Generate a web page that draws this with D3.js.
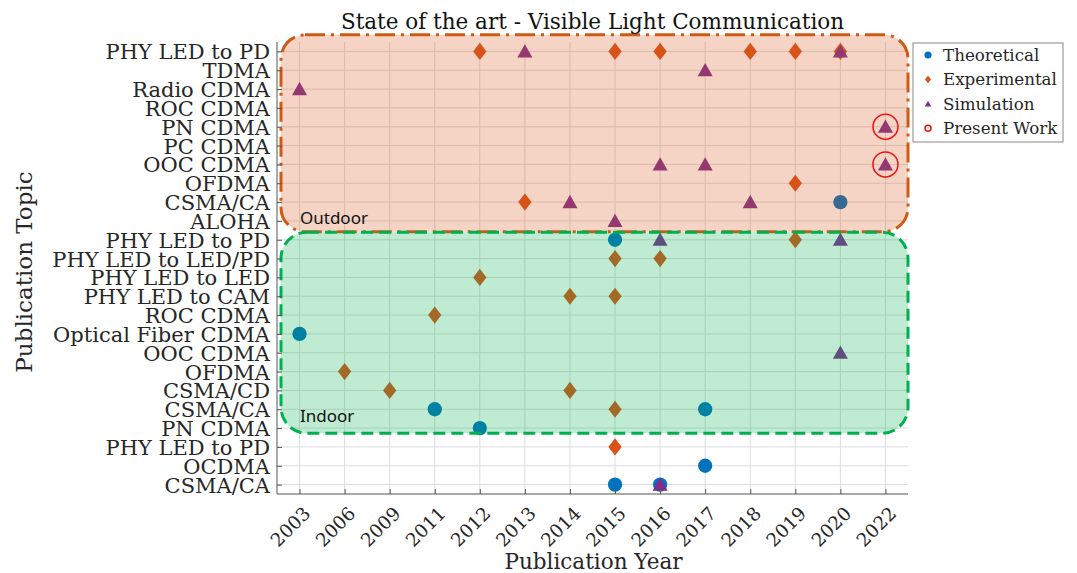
<!DOCTYPE html>
<html>
<head>
<meta charset="utf-8">
<script src="https://cdn.jsdelivr.net/npm/d3@7"></script>
<style>
  body { margin: 0; background: #fff; }
  svg text { font-family: "DejaVu Serif", serif; fill: #262626; }
</style>
</head>
<body>
<script>
// categories
var years = ["2003","2006","2009","2011","2012","2013","2014","2015","2016","2017","2018","2019","2020","2022"];
var topics = ["PHY LED to PD","TDMA","Radio CDMA","ROC CDMA","PN CDMA","PC CDMA","OOC CDMA","OFDMA","CSMA/CA","ALOHA",
              "PHY LED to PD","PHY LED to LED/PD","PHY LED to LED","PHY LED to CAM","ROC CDMA","Optical Fiber CDMA",
              "OOC CDMA","OFDMA","CSMA/CD","CSMA/CA","PN CDMA","PHY LED to PD","OCDMA","CSMA/CA"];

// series: [year, topic row (0 = top)]
var theoretical = [["2020",8],["2015",10],["2003",15],["2011",19],["2017",19],["2012",20],["2017",22],["2015",23],["2016",23]];
var experimental = [["2012",0],["2015",0],["2016",0],["2018",0],["2019",0],["2020",0],["2019",7],["2013",8],
                    ["2019",10],["2015",11],["2016",11],["2012",12],["2014",13],["2015",13],["2011",14],["2006",17],
                    ["2009",18],["2014",18],["2015",19],["2015",21]];
var simulation = [["2013",0],["2020",0],["2017",1],["2003",2],["2022",4],["2016",6],["2017",6],["2022",6],
                  ["2014",8],["2018",8],["2015",9],["2016",10],["2020",10],["2020",16],["2016",23]];
var presentWork = [["2022",4],["2022",6]];

var legendNames = ["Theoretical","Experimental","Simulation","Present Work"];
var regionNames = ["Outdoor","Indoor"];
var regionRows = [[0,9],[10,20]];

var W = 1077, H = 573;
var plotLeft = 277, plotRight = 908, plotTop = 42, plotBottom = 494;

var svg = d3.select("body").append("svg").attr("width", W).attr("height", H);

var x = d3.scalePoint().domain(years).range([plotLeft, plotRight]).padding(0.5);
var y = d3.scalePoint().domain(d3.range(topics.length)).range([plotTop, plotBottom]).padding(0.5);

// grid
svg.append("g").selectAll("line").data(years).enter().append("line")
    .attr("x1", function(d){ return x(d); }).attr("x2", function(d){ return x(d); })
    .attr("y1", plotTop).attr("y2", plotBottom)
    .attr("stroke", "#dcdcdc").attr("stroke-width", 1);
svg.append("g").selectAll("line").data(d3.range(topics.length)).enter().append("line")
    .attr("y1", function(d){ return y(d); }).attr("y2", function(d){ return y(d); })
    .attr("x1", plotLeft).attr("x2", plotRight)
    .attr("stroke", "#dcdcdc").attr("stroke-width", 1);

// marker shapes
var diamond = { draw: function(ctx, size){ var h = Math.sqrt(size) * 0.62, w = h * 0.78;
    ctx.moveTo(0, -h); ctx.lineTo(w, 0); ctx.lineTo(0, h); ctx.lineTo(-w, 0); ctx.closePath(); } };
var triangle = { draw: function(ctx, size){ var s = Math.sqrt(size);
    ctx.moveTo(0, -s * 0.5); ctx.lineTo(s * 0.52, s * 0.42); ctx.lineTo(-s * 0.52, s * 0.42); ctx.closePath(); } };

function drawSeries(data, type, size, color){
    svg.append("g").selectAll("path").data(data).enter().append("path")
        .attr("transform", function(d){ return "translate(" + x(d[0]) + "," + y(d[1]) + ")"; })
        .attr("d", d3.symbol().type(type).size(size))
        .attr("fill", color);
}
drawSeries(theoretical, d3.symbolCircle, 160, "#0072BD");
drawSeries(experimental, diamond, 190, "#D95319");
drawSeries(simulation, triangle, 210, "#7E2F8E");

// regions
var step = y.step();
svg.append("rect")
    .attr("x", plotLeft + 4).attr("y", y(regionRows[0][0]) - step * 0.88)
    .attr("width", plotRight - plotLeft - 4).attr("height", y(regionRows[0][1]) - y(regionRows[0][0]) + step * 1.45)
    .attr("rx", 24).attr("ry", 24)
    .attr("fill", "rgba(217,83,25,0.25)")
    .attr("stroke", "#CF5A14").attr("stroke-width", 3)
    .attr("stroke-dasharray", "20 6 3 6");
svg.append("rect")
    .attr("x", plotLeft + 4).attr("y", y(regionRows[1][0]) - step * 0.4)
    .attr("width", plotRight - plotLeft - 4).attr("height", y(regionRows[1][1]) - y(regionRows[1][0]) + step * 0.68)
    .attr("rx", 26).attr("ry", 26)
    .attr("fill", "rgba(0,176,80,0.25)")
    .attr("stroke", "#00B050").attr("stroke-width", 3)
    .attr("stroke-dasharray", "12 6");

svg.append("text").attr("x", 300).attr("y", y(regionRows[0][1]) + 3)
    .style("font-family", "'Noto Sans', sans-serif").style("font-size", "17px").style("fill", "#111")
    .text(regionNames[0]);
svg.append("text").attr("x", 300).attr("y", y(regionRows[1][1]) - 6)
    .style("font-family", "'Noto Sans', sans-serif").style("font-size", "17px").style("fill", "#111")
    .text(regionNames[1]);

// present work rings
svg.append("g").selectAll("circle").data(presentWork).enter().append("circle")
    .attr("cx", function(d){ return x(d[0]); }).attr("cy", function(d){ return y(d[1]); })
    .attr("r", 12.5).attr("fill", "none").attr("stroke", "#F01010").attr("stroke-width", 1.5);

// axes
var xAxis = svg.append("g").attr("transform", "translate(0," + plotBottom + ")")
    .call(d3.axisBottom(x).tickSizeInner(-5).tickSizeOuter(0));
xAxis.select(".domain").attr("stroke", "#555").attr("d", "M" + plotLeft + ",0H" + plotRight);
xAxis.selectAll(".tick line").attr("stroke", "#555");
xAxis.selectAll(".tick text")
    .style("font-size", "18.5px")
    .attr("text-anchor", "end")
    .attr("x", 0).attr("y", 0).attr("dy", "0.35em")
    .attr("transform", "translate(7,16) rotate(-45)");

var yAxis = svg.append("g").attr("transform", "translate(" + plotLeft + ",0)")
    .call(d3.axisLeft(y).tickSizeInner(-5).tickSizeOuter(0).tickFormat(function(d){ return topics[d]; }));
yAxis.select(".domain").attr("stroke", "#555").attr("d", "M0," + plotTop + "V" + plotBottom);
yAxis.selectAll(".tick line").attr("stroke", "#555");
yAxis.selectAll(".tick text").style("font-size", "21px").attr("x", -7).attr("dy", "0.36em");

// titles
svg.append("text").attr("x", (plotLeft + plotRight) / 2).attr("y", 29).attr("text-anchor", "middle")
    .style("font-size", "21.5px").style("fill", "#111").text("State of the art - Visible Light Communication");
svg.append("text").attr("x", 593.5).attr("y", 569).attr("text-anchor", "middle")
    .style("font-size", "21.5px").text("Publication Year");
svg.append("text").attr("transform", "translate(32,272) rotate(-90)")
    .attr("text-anchor", "middle").style("font-size", "23px").text("Publication Topic");

// legend
var legend = svg.append("g").attr("transform", "translate(913,43)");
legend.append("rect").attr("width", 150).attr("height", 99).attr("fill", "#fff").attr("stroke", "#888");
var legendTypes = [d3.symbolCircle, diamond, triangle, null];
var legendColors = ["#0072BD", "#D95319", "#7E2F8E", "#F01010"];
var items = legend.selectAll(".item").data(legendNames).enter().append("g")
    .attr("transform", function(d, i){ return "translate(15," + (12 + i * 24.4) + ")"; });
items.each(function(d, i){
    var g = d3.select(this);
    if (legendTypes[i]) {
        g.append("path").attr("d", d3.symbol().type(legendTypes[i]).size(40)).attr("fill", legendColors[i]);
    } else {
        g.append("circle").attr("r", 3).attr("fill", "none").attr("stroke", legendColors[i]).attr("stroke-width", 1.5);
    }
});
items.append("text").attr("x", 15).attr("dy", "0.35em").style("font-size", "16.7px").text(function(d){ return d; });
</script>
</body>
</html>
